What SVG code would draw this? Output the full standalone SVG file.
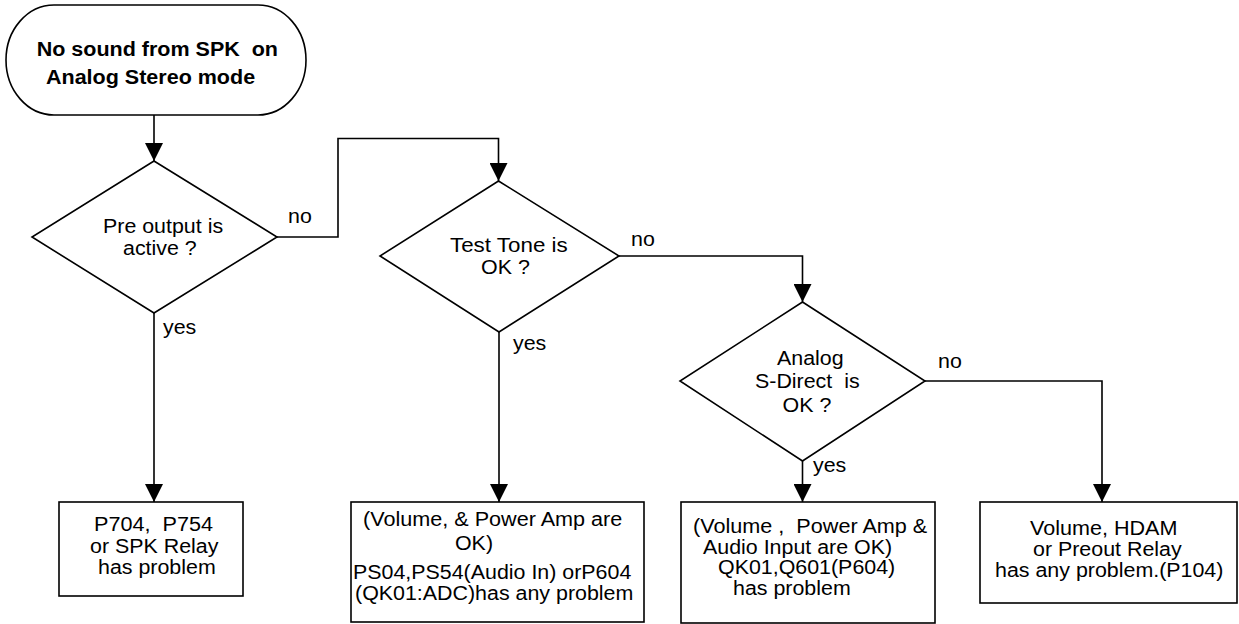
<svg xmlns="http://www.w3.org/2000/svg" width="1239" height="624" viewBox="0 0 1239 624">
<style>
  .shape { fill: #fff; stroke: #000; stroke-width: 1.6; }
  .wire { fill: none; stroke: #000; stroke-width: 1.6; marker-end: url(#arrow); }
  text { font-family: "Liberation Sans", Arial, sans-serif; font-size: 20px; fill: #000; }
  .bold { font-weight: bold; font-size: 20px; }
</style>
<defs>
  <marker id="arrow" markerUnits="userSpaceOnUse" markerWidth="18" markerHeight="18" refX="18" refY="9" orient="auto">
    <path d="M0,0 L18,9 L0,18 z" fill="#000"/>
  </marker>
</defs>
<rect width="1239" height="624" fill="#fff"/>

<g id="connectors">
  <path class="wire" d="M154,115 L154,161"/>
  <path class="wire" d="M277,237 L338,237 L338,138.5 L498.5,138.5 L498.5,181"/>
  <path class="wire" d="M154,313 L154,502"/>
  <path class="wire" d="M619,256 L802.5,256 L802.5,302"/>
  <path class="wire" d="M499,332 L499,502"/>
  <path class="wire" d="M925,381 L1102,381 L1102,502"/>
  <path class="wire" d="M802.5,461 L802.5,502"/>
  <text x="288" y="223" textLength="23.8" lengthAdjust="spacingAndGlyphs">no</text>
  <text x="163" y="334" textLength="33.3" lengthAdjust="spacingAndGlyphs">yes</text>
  <text x="631" y="246" textLength="23.8" lengthAdjust="spacingAndGlyphs">no</text>
  <text x="513" y="350" textLength="33.3" lengthAdjust="spacingAndGlyphs">yes</text>
  <text x="938" y="368" textLength="23.8" lengthAdjust="spacingAndGlyphs">no</text>
  <text x="813" y="472" textLength="33.3" lengthAdjust="spacingAndGlyphs">yes</text>
</g>

<g id="start">
  <rect class="shape" x="6" y="5" width="300" height="110" rx="48" ry="55"/>
  <text class="bold" x="36.7" y="56" xml:space="preserve" textLength="241.3" lengthAdjust="spacingAndGlyphs">No sound from SPK  on</text>
  <text class="bold" x="46" y="84" textLength="209.1" lengthAdjust="spacingAndGlyphs">Analog Stereo mode</text>
</g>

<g id="d1">
  <polygon class="shape" points="154,161 277,237 154,313 32,237"/>
  <text x="103" y="233" textLength="120.1" lengthAdjust="spacingAndGlyphs">Pre output is</text>
  <text x="123" y="255" textLength="73.7" lengthAdjust="spacingAndGlyphs">active ?</text>
</g>

<g id="d2">
  <polygon class="shape" points="498.5,181 619,256 499,332 380,256"/>
  <text x="450" y="252" textLength="117.7" lengthAdjust="spacingAndGlyphs">Test Tone is</text>
  <text x="481" y="274" textLength="48.8" lengthAdjust="spacingAndGlyphs">OK ?</text>
</g>

<g id="d3">
  <polygon class="shape" points="802.5,302 925,381 802.5,461 680,381"/>
  <text x="777" y="364.5" textLength="66.6" lengthAdjust="spacingAndGlyphs">Analog</text>
  <text x="755" y="388" xml:space="preserve" textLength="104.6" lengthAdjust="spacingAndGlyphs">S-Direct  is</text>
  <text x="782.5" y="411.5" textLength="48.8" lengthAdjust="spacingAndGlyphs">OK ?</text>
</g>

<g id="box1">
  <rect class="shape" x="59" y="502" width="184" height="94"/>
  <text x="94" y="531" xml:space="preserve" textLength="119" lengthAdjust="spacingAndGlyphs">P704,  P754</text>
  <text x="90" y="553" textLength="128.4" lengthAdjust="spacingAndGlyphs">or SPK Relay</text>
  <text x="98" y="574" textLength="117.7" lengthAdjust="spacingAndGlyphs">has problem</text>
</g>

<g id="box2">
  <rect class="shape" x="351" y="502" width="293" height="120"/>
  <text x="363" y="526" textLength="259.3" lengthAdjust="spacingAndGlyphs">(Volume, &amp; Power Amp are</text>
  <text x="455" y="550" textLength="38" lengthAdjust="spacingAndGlyphs">OK)</text>
  <text x="353" y="579" textLength="278.3" lengthAdjust="spacingAndGlyphs">PS04,PS54(Audio In) orP604</text>
  <text x="355" y="600" textLength="278.3" lengthAdjust="spacingAndGlyphs">(QK01:ADC)has any problem</text>
</g>

<g id="box3">
  <rect class="shape" x="681" y="502" width="254" height="121"/>
  <text x="693" y="533" xml:space="preserve" textLength="234.3" lengthAdjust="spacingAndGlyphs">(Volume ,  Power Amp &amp;</text>
  <text x="703" y="554" textLength="189.1" lengthAdjust="spacingAndGlyphs">Audio Input are OK)</text>
  <text x="718" y="574" textLength="177.2" lengthAdjust="spacingAndGlyphs">QK01,Q601(P604)</text>
  <text x="733" y="595" textLength="117.7" lengthAdjust="spacingAndGlyphs">has problem</text>
</g>

<g id="box4">
  <rect class="shape" x="980" y="502" width="257" height="101"/>
  <text x="1030" y="535" textLength="147.4" lengthAdjust="spacingAndGlyphs">Volume, HDAM</text>
  <text x="1033" y="556" textLength="148.7" lengthAdjust="spacingAndGlyphs">or Preout Relay</text>
  <text x="995" y="577" textLength="228.4" lengthAdjust="spacingAndGlyphs">has any problem.(P104)</text>
</g>
</svg>
